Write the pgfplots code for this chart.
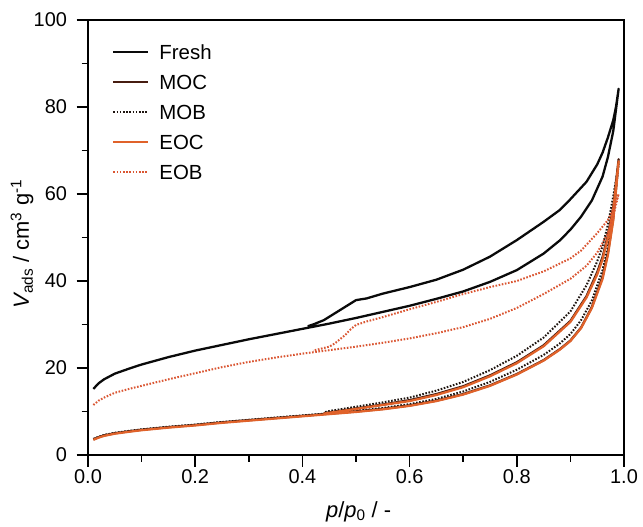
\documentclass[border=0pt]{standalone}
\usepackage{pgfplots}
\pgfplotsset{compat=1.18}
\usepackage{fontspec}
\setmainfont{Liberation Sans}
\definecolor{cFresh}{RGB}{10,10,10}
\definecolor{cMOC}{RGB}{70,28,16}
\definecolor{cMOB}{RGB}{30,20,15}
\definecolor{cEOC}{RGB}{224,98,42}
\definecolor{cEOB}{RGB}{218,86,50}
\begin{document}
\begin{tikzpicture}
\begin{axis}[
  at={(0,0)}, anchor=south west,
  scale only axis,
  width=536bp, height=435bp,
  xmin=0, xmax=1, ymin=0, ymax=100,
  xtick={0,0.2,...,1.0}, ytick={0,20,...,100},
  minor x tick num=1, minor y tick num=1,
  tick pos=left, tick align=outside,
  major tick length=11.5bp, minor tick length=6.5bp,
  every tick/.style={line width=1.8pt, black},
  axis line style={line width=2pt},
  /pgf/number format/assume math mode=true,
  tick label style={font=\fontsize{20}{23}\selectfont},
  xticklabel style={/pgf/number format/.cd, fixed, fixed zerofill, precision=1},
  yticklabel style={xshift=-6bp, /pgf/number format/.cd, fixed, precision=0},
  label style={font=\fontsize{22}{25}\selectfont},
  xlabel={\itshape p\/\upshape/\itshape p\/\upshape\textsubscript{0} / -},
  ylabel={{\itshape V}\textsubscript{ads} / cm\textsuperscript{3} g\textsuperscript{-1}},
  xlabel style={at={(axis description cs:0.505,0)}, anchor=base, yshift=-62bp},
  ylabel style={at={(axis description cs:-0.123,0.485)}, anchor=center},
  legend cell align=left,
  legend style={at={(axis description cs:0.045,0.944)}, anchor=north west, draw=none, fill=none,
    font=\fontsize{20.5}{23}\selectfont, inner sep=0pt,
    nodes={inner sep=0pt, text height=15bp, text depth=0bp},
    row sep=14.9bp},
  legend image code/.code={\draw[#1] (0bp,0bp) -- (35bp,0bp); \path[draw=none] (0bp,0bp) -- (46bp,0bp);},
  every axis plot/.append style={line width=2.3pt},
]
% Fresh
\addplot[cFresh, line join=round] coordinates {
(0.01,15.2)(0.02,16.5)(0.03,17.4)(0.05,18.7)(0.08,20.0)(0.1,20.8)(0.15,22.5)(0.2,24.0)(0.25,25.3)(0.3,26.6)(0.35,27.8)(0.4,29.0)(0.45,30.2)(0.5,31.5)(0.55,32.9)(0.6,34.3)(0.65,35.9)(0.7,37.6)(0.75,39.8)(0.8,42.5)(0.85,46.3)(0.88,49.3)(0.9,51.8)(0.92,54.8)(0.94,58.5)(0.96,64)(0.97,68.5)(0.98,74.5)(0.99,84.2)
(0.985,80)(0.98,77)(0.97,73)(0.96,69.5)(0.95,66.8)(0.93,62.8)(0.9,58.8)(0.88,56.3)(0.85,53.6)(0.8,49.4)(0.75,45.6)(0.7,42.6)(0.65,40.3)(0.6,38.6)(0.55,37.1)(0.52,36.0)(0.5,35.6)(0.47,33.3)(0.44,31.0)(0.42,30.0)(0.41,29.6)
};
\addlegendentry{Fresh}
% MOC
\addplot[cMOC, line join=round] coordinates {
(0.01,3.6)(0.02,4.1)(0.03,4.5)(0.05,5.0)(0.08,5.5)(0.1,5.8)(0.15,6.4)(0.2,6.9)(0.25,7.5)(0.3,8.0)(0.35,8.5)(0.4,9.0)(0.45,9.5)(0.5,10.0)(0.55,10.6)(0.6,11.4)(0.65,12.5)(0.7,14.0)(0.75,16.0)(0.8,18.6)(0.85,21.8)(0.88,24.3)(0.9,26.3)(0.92,29.3)(0.94,34)(0.96,41)(0.97,46.5)(0.98,54.5)(0.99,68)
(0.98,57)(0.97,50.5)(0.96,45.5)(0.95,42)(0.93,36.5)(0.9,30.8)(0.85,25.2)(0.8,21.3)(0.75,18.3)(0.7,15.8)(0.65,14.0)(0.6,12.6)(0.55,11.6)(0.5,10.7)(0.45,9.8)(0.44,9.6)
};
\addlegendentry{MOC}
% MOB
\addplot[cMOB, line width=2pt, dash pattern=on 1.6pt off 1.6pt] coordinates {
(0.01,3.7)(0.02,4.2)(0.03,4.6)(0.05,5.1)(0.08,5.6)(0.1,5.9)(0.15,6.5)(0.2,7.0)(0.25,7.6)(0.3,8.1)(0.35,8.6)(0.4,9.1)(0.45,9.6)(0.5,10.2)(0.55,10.8)(0.6,11.7)(0.65,12.9)(0.7,14.6)(0.75,16.8)(0.8,19.6)(0.85,23.0)(0.88,25.6)(0.9,27.8)(0.92,31)(0.94,35.5)(0.96,42.5)(0.97,48)(0.98,55.5)(0.99,67)
(0.98,59.5)(0.97,53)(0.96,48)(0.95,44.5)(0.93,39)(0.9,33.0)(0.85,27.0)(0.8,22.8)(0.75,19.5)(0.7,16.8)(0.65,14.8)(0.6,13.2)(0.55,12.1)(0.5,11.1)(0.45,10.1)(0.44,9.8)
};
\addlegendentry{MOB}
% EOC
\addplot[cEOC, line join=round] coordinates {
(0.01,3.5)(0.02,4.0)(0.03,4.4)(0.05,4.9)(0.08,5.4)(0.1,5.7)(0.15,6.3)(0.2,6.8)(0.25,7.4)(0.3,7.9)(0.35,8.4)(0.4,8.9)(0.45,9.4)(0.5,9.9)(0.55,10.5)(0.6,11.3)(0.65,12.4)(0.7,13.9)(0.75,15.9)(0.8,18.5)(0.85,21.7)(0.88,24.2)(0.9,26.2)(0.92,29.2)(0.94,33.8)(0.96,40.5)(0.97,46)(0.98,54)(0.99,67.5)
(0.98,56.5)(0.97,50)(0.96,45)(0.95,41.5)(0.93,36.2)(0.9,30.6)(0.85,25.0)(0.8,21.1)(0.75,18.1)(0.7,15.6)(0.65,13.8)(0.6,12.4)(0.55,11.5)(0.5,10.6)(0.45,9.7)(0.44,9.5)
};
\addlegendentry{EOC}
% EOB
\addplot[cEOB, line width=2pt, dash pattern=on 1.6pt off 1.6pt] coordinates {
(0.01,11.5)(0.02,12.5)(0.03,13.2)(0.05,14.3)(0.08,15.3)(0.1,15.9)(0.15,17.4)(0.2,18.8)(0.25,20.2)(0.3,21.4)(0.35,22.4)(0.4,23.3)(0.45,24.1)(0.5,24.9)(0.55,25.8)(0.6,26.8)(0.65,28.0)(0.7,29.4)(0.75,31.3)(0.8,33.8)(0.85,37.0)(0.9,40.5)(0.93,43.5)(0.95,46.5)(0.97,51)(0.98,55)(0.99,60)
(0.98,56.5)(0.97,54)(0.95,51)(0.92,47)(0.9,45.2)(0.85,42.2)(0.8,40.0)(0.75,38.6)(0.7,37.0)(0.65,35.2)(0.6,33.5)(0.55,31.7)(0.52,30.7)(0.5,29.9)(0.49,28.9)(0.48,27.6)(0.47,26.6)(0.46,25.6)(0.45,24.9)(0.43,24.3)(0.42,24.0)
};
\addlegendentry{EOB}
\end{axis}
\pgfresetboundingbox
\path[use as bounding box] (-88bp,-72bp) rectangle (555bp,455bp);
\end{tikzpicture}
\end{document}
